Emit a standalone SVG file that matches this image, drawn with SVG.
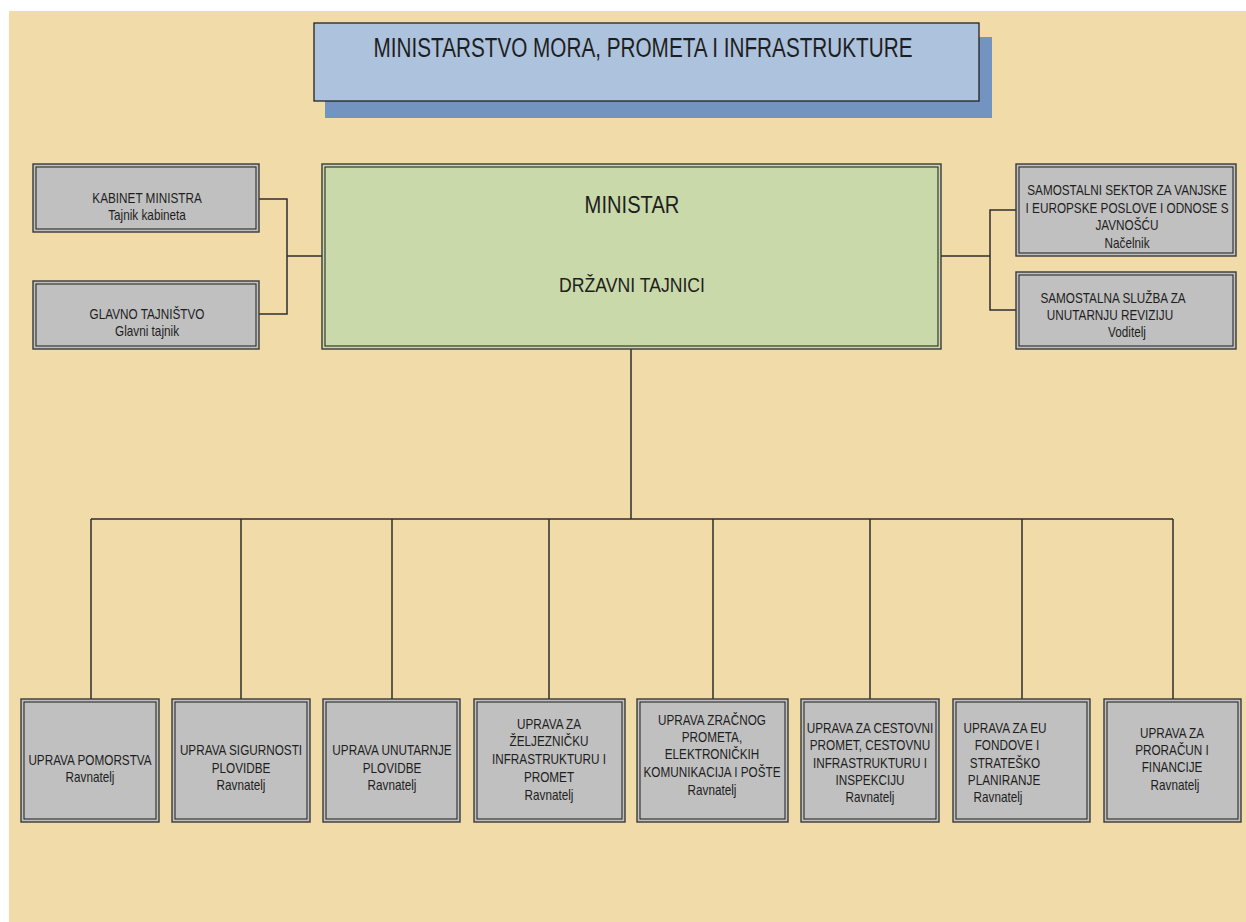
<svg xmlns="http://www.w3.org/2000/svg" width="1246" height="922" viewBox="0 0 1246 922">
<style>
.t{font-family:"Liberation Sans",Arial,sans-serif;font-size:14px;fill:#1e1e1e;text-anchor:middle;transform-box:fill-box;transform-origin:center;transform:scaleX(0.84)}
.big{font-size:28px;transform:scaleX(0.74)}
.mid{font-size:24px}
.mid2{font-size:21px}
.box{fill:#c0c0c0;stroke:#3a3a3a;stroke-width:1.4}
.inner{fill:none;stroke:#2a2a2a;stroke-width:1.1}
.gbox{fill:#c9d9a9;stroke:#3a3a3a;stroke-width:1.4}
.conn{fill:none;stroke:#2e2e2e;stroke-width:1.5}
</style>
<rect x="0" y="0" width="1246" height="922" fill="#ffffff"/>
<rect x="9" y="11" width="1237" height="911" fill="#f1dca9"/>

<g id="connectors">
<polyline class="conn" points="259,199 287,199 287,314 259,314"/>
<line class="conn" x1="287" y1="256" x2="323" y2="256"/>
<polyline class="conn" points="1016,210 990,210 990,310 1016,310"/>
<line class="conn" x1="941" y1="256" x2="990" y2="256"/>
<line class="conn" x1="631" y1="349" x2="631" y2="519"/>
<line class="conn" x1="91" y1="519" x2="1173" y2="519"/>
<line class="conn" x1="91" y1="519" x2="91" y2="699"/>
<line class="conn" x1="241" y1="519" x2="241" y2="699"/>
<line class="conn" x1="392" y1="519" x2="392" y2="699"/>
<line class="conn" x1="549" y1="519" x2="549" y2="699"/>
<line class="conn" x1="713" y1="519" x2="713" y2="699"/>
<line class="conn" x1="870" y1="519" x2="870" y2="699"/>
<line class="conn" x1="1022" y1="519" x2="1022" y2="699"/>
<line class="conn" x1="1173" y1="519" x2="1173" y2="699"/>
</g>

<g id="title">
<rect x="325" y="37" width="667" height="81" fill="#7394c1"/>
<rect x="314" y="23" width="665" height="78" fill="#adc2dc" stroke="#222" stroke-width="1.3"/>
<text class="t big" x="643" y="57">MINISTARSTVO MORA, PROMETA I INFRASTRUKTURE</text>
</g>

<g id="ministar">
<rect class="gbox" x="322" y="164" width="619" height="185"/>
<rect class="inner" x="325" y="167" width="613" height="179"/>
<text class="t mid" x="632" y="213">MINISTAR</text>
<text class="t mid2" x="632" y="292">DRŽAVNI TAJNICI</text>
</g>

<g id="kabinet">
<rect class="box" x="33" y="164" width="226" height="68"/>
<rect class="inner" x="36" y="167" width="220" height="62"/>
<text class="t" x="147" y="203">KABINET MINISTRA</text>
<text class="t" x="147" y="220">Tajnik kabineta</text>
</g>

<g id="glavno">
<rect class="box" x="33" y="281" width="226" height="68"/>
<rect class="inner" x="36" y="284" width="220" height="62"/>
<text class="t" x="147" y="319">GLAVNO TAJNIŠTVO</text>
<text class="t" x="147" y="336">Glavni tajnik</text>
</g>

<g id="sektor">
<rect class="box" x="1016" y="164" width="220" height="92"/>
<rect class="inner" x="1019" y="167" width="214" height="86"/>
<text class="t" x="1127" y="195">SAMOSTALNI SEKTOR ZA VANJSKE</text>
<text class="t" x="1127" y="213">I EUROPSKE POSLOVE I ODNOSE S</text>
<text class="t" x="1127" y="230">JAVNOŠĆU</text>
<text class="t" x="1127" y="248">Načelnik</text>
</g>

<g id="revizija">
<rect class="box" x="1016" y="272" width="220" height="77"/>
<rect class="inner" x="1019" y="275" width="214" height="71"/>
<text class="t" x="1113" y="303">SAMOSTALNA SLUŽBA ZA</text>
<text class="t" x="1110" y="320">UNUTARNJU REVIZIJU</text>
<text class="t" x="1127" y="337">Voditelj</text>
</g>

<g id="pomorstvo">
<rect class="box" x="21" y="699" width="138" height="123"/>
<rect class="inner" x="24" y="702" width="132" height="117"/>
<text class="t" x="90" y="765">UPRAVA POMORSTVA</text>
<text class="t" x="90" y="782">Ravnatelj</text>
</g>

<g id="sigurnost">
<rect class="box" x="172" y="699" width="138" height="123"/>
<rect class="inner" x="175" y="702" width="132" height="117"/>
<text class="t" x="241" y="755">UPRAVA SIGURNOSTI</text>
<text class="t" x="241" y="773">PLOVIDBE</text>
<text class="t" x="241" y="790">Ravnatelj</text>
</g>

<g id="unutarnja">
<rect class="box" x="323" y="699" width="137" height="123"/>
<rect class="inner" x="326" y="702" width="131" height="117"/>
<text class="t" x="392" y="755">UPRAVA UNUTARNJE</text>
<text class="t" x="392" y="773">PLOVIDBE</text>
<text class="t" x="392" y="790">Ravnatelj</text>
</g>

<g id="zeljeznica">
<rect class="box" x="474" y="699" width="151" height="123"/>
<rect class="inner" x="477" y="702" width="145" height="117"/>
<text class="t" x="549" y="729">UPRAVA ZA</text>
<text class="t" x="549" y="746">ŽELJEZNIČKU</text>
<text class="t" x="549" y="764">INFRASTRUKTURU I</text>
<text class="t" x="549" y="782">PROMET</text>
<text class="t" x="549" y="800">Ravnatelj</text>
</g>

<g id="zracni">
<rect class="box" x="637" y="699" width="151" height="123"/>
<rect class="inner" x="640" y="702" width="145" height="117"/>
<text class="t" x="712" y="725">UPRAVA ZRAČNOG</text>
<text class="t" x="712" y="742">PROMETA,</text>
<text class="t" x="712" y="759">ELEKTRONIČKIH</text>
<text class="t" x="712" y="777">KOMUNIKACIJA I POŠTE</text>
<text class="t" x="712" y="795">Ravnatelj</text>
</g>

<g id="cestovni">
<rect class="box" x="801" y="699" width="138" height="123"/>
<rect class="inner" x="804" y="702" width="132" height="117"/>
<text class="t" x="870" y="733">UPRAVA ZA CESTOVNI</text>
<text class="t" x="870" y="750">PROMET, CESTOVNU</text>
<text class="t" x="870" y="768">INFRASTRUKTURU I</text>
<text class="t" x="870" y="785">INSPEKCIJU</text>
<text class="t" x="870" y="802">Ravnatelj</text>
</g>

<g id="eufondovi">
<rect class="box" x="953" y="699" width="137" height="123"/>
<rect class="inner" x="956" y="702" width="131" height="117"/>
<text class="t" x="1005" y="733">UPRAVA ZA EU</text>
<text class="t" x="1007" y="750">FONDOVE I</text>
<text class="t" x="1005" y="768">STRATEŠKO</text>
<text class="t" x="1004" y="785">PLANIRANJE</text>
<text class="t" x="998" y="802">Ravnatelj</text>
</g>

<g id="proracun">
<rect class="box" x="1104" y="699" width="137" height="123"/>
<rect class="inner" x="1107" y="702" width="131" height="117"/>
<text class="t" x="1172" y="738">UPRAVA ZA</text>
<text class="t" x="1172" y="755">PRORAČUN I</text>
<text class="t" x="1172" y="772">FINANCIJE</text>
<text class="t" x="1175" y="790">Ravnatelj</text>
</g>
</svg>
